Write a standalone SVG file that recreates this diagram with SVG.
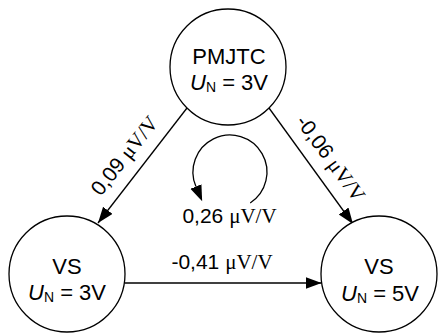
<svg xmlns="http://www.w3.org/2000/svg" width="438" height="333" viewBox="0 0 438 333">
<style>
.node{fill:#fff;stroke:#000;stroke-width:1.3}
.nt{font-family:"Liberation Sans",Arial,sans-serif;font-size:22px;fill:#000;text-anchor:middle}
.sub{font-size:14px}
.lbl{font-family:"Liberation Sans",Arial,sans-serif;font-size:21px;fill:#000;text-anchor:middle}
.ser{font-family:"Liberation Serif","Times New Roman",serif}
.edge{fill:none;stroke:#000;stroke-width:1.3}
</style>
<defs>
<marker id="arr" markerUnits="userSpaceOnUse" markerWidth="17" markerHeight="13" refX="16" refY="6" orient="auto">
<path d="M0,0 L16,6 L0,12 z" fill="#000"/>
</marker>
<marker id="arr0" markerUnits="userSpaceOnUse" markerWidth="17" markerHeight="13" refX="0" refY="6" orient="auto">
<path d="M0,0 L16,6 L0,12 z" fill="#000"/>
</marker>
</defs>
<rect width="438" height="333" fill="#fff"/>
<g id="connectors">
<line class="edge" x1="187" y1="108" x2="98" y2="223" marker-end="url(#arr)"/>
<line class="edge" x1="269" y1="108" x2="353" y2="224" marker-end="url(#arr)"/>
<line class="edge" x1="124.5" y1="283" x2="321.5" y2="283" marker-end="url(#arr)"/>
<path class="edge" d="M250.2,203 A37,37 0 1 0 195.9,186.5" marker-end="url(#arr0)"/>
<text class="lbl" transform="translate(130,160) rotate(-51.6)">0,09 <tspan class="ser">μV/V</tspan></text>
<text class="lbl" transform="translate(325,162.4) rotate(53.7)">-0,06 <tspan class="ser">μV/V</tspan></text>
<text class="lbl" x="229.5" y="223">0,26 <tspan class="ser">μV/V</tspan></text>
<text class="lbl" x="222" y="269">-0,41 <tspan class="ser">μV/V</tspan></text>
</g>
<g id="node-pmjtc">
<circle class="node" cx="228" cy="67" r="58"/>
<text class="nt" x="229" y="63.5">PMJTC</text>
<text class="nt" x="229" y="90"><tspan font-style="italic">U</tspan><tspan class="sub" dy="2">N</tspan><tspan dy="-2"> = 3V</tspan></text>
</g>
<g id="node-vs3">
<circle class="node" cx="67" cy="274" r="58"/>
<text class="nt" x="67" y="273.5">VS</text>
<text class="nt" x="67" y="300"><tspan font-style="italic">U</tspan><tspan class="sub" dy="2">N</tspan><tspan dy="-2"> = 3V</tspan></text>
</g>
<g id="node-vs5">
<circle class="node" cx="379" cy="274" r="58"/>
<text class="nt" x="379" y="273.5">VS</text>
<text class="nt" x="380" y="300.5"><tspan font-style="italic">U</tspan><tspan class="sub" dy="2">N</tspan><tspan dy="-2"> = 5V</tspan></text>
</g>
</svg>
